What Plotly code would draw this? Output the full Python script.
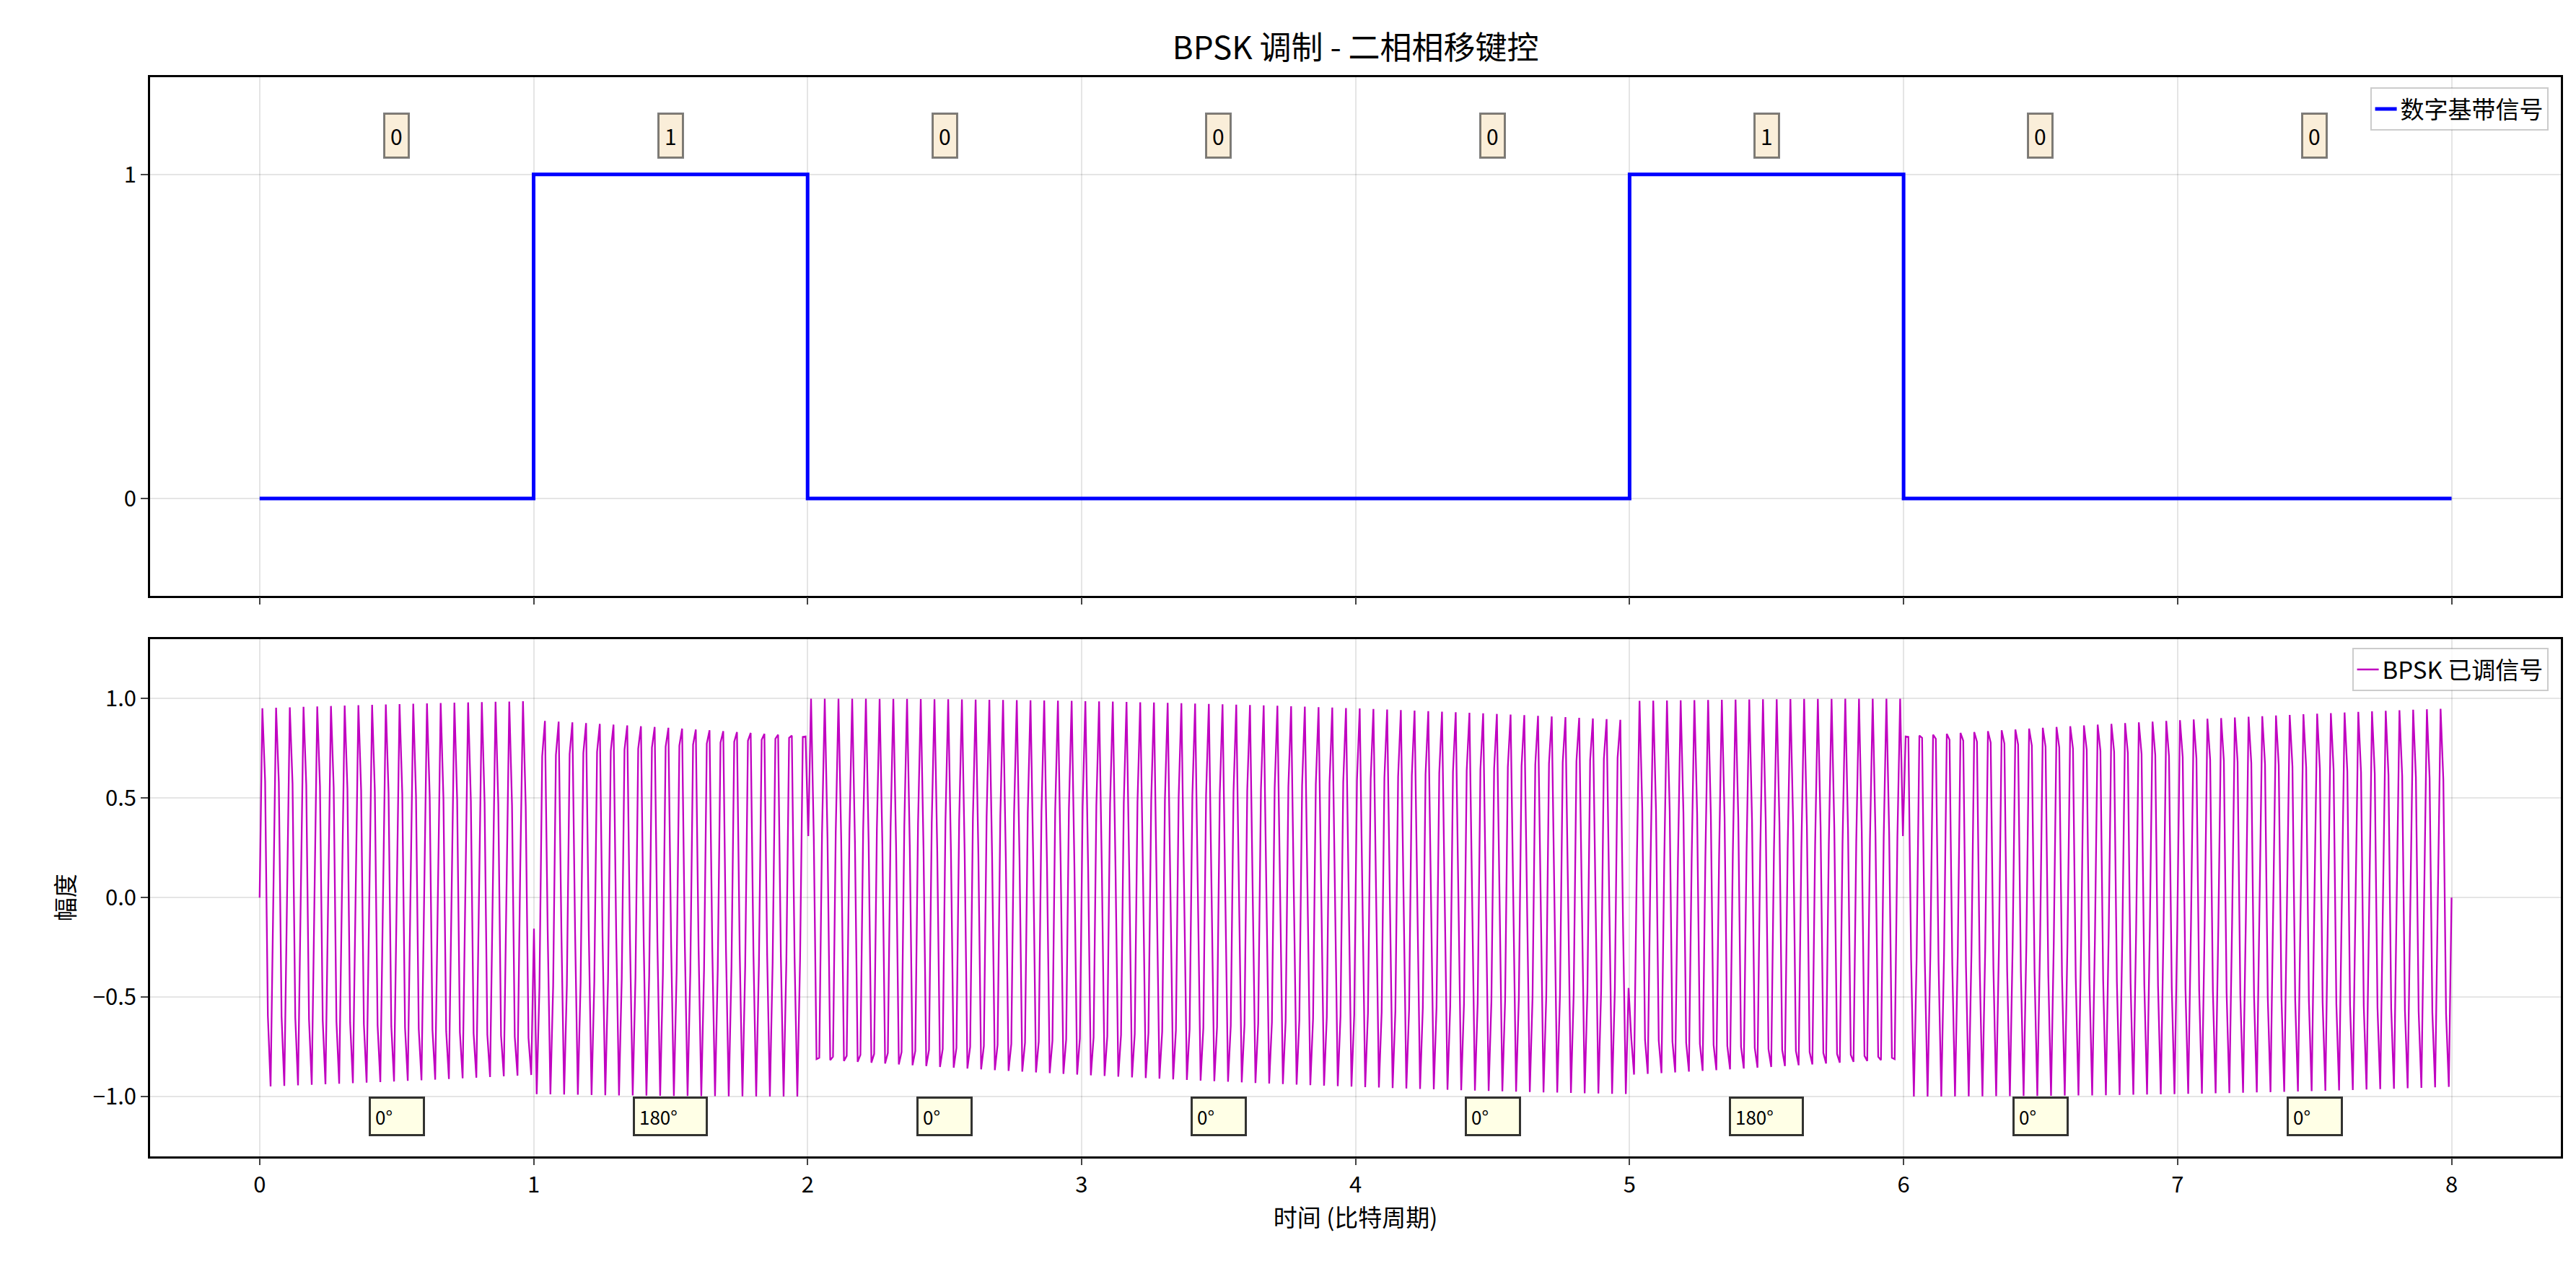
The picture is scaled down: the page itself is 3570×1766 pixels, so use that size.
import numpy as np
import plotly.graph_objects as go

bits = [0, 1, 0, 0, 0, 1, 0, 0]
phase_labels = ["0°", "180°", "0°", "0°", "0°", "180°", "0°", "0°"]
carrier_cycles_per_bit = 20
n_samples = 800

n = len(bits)
t = np.linspace(0, n, n_samples)
idx = np.minimum(t.astype(int), n - 1)
bit_arr = np.array(bits)[idx]
mod = np.sin(2 * np.pi * carrier_cycles_per_bit * t + np.pi * bit_arr)

sx, sy = [], []
for i, b in enumerate(bits):
    sx += [i, i + 1]
    sy += [b, b]

F = "Noto Sans CJK SC"
fig = go.Figure()
fig.add_trace(go.Scatter(x=sx, y=sy, mode="lines", line=dict(color="#0000ff", width=5),
                         name="数字基带信号", xaxis="x", yaxis="y", legend="legend", showlegend=True))
fig.add_trace(go.Scatter(x=t, y=mod, mode="lines", line=dict(color="#c000c0", width=2.3),
                         name="BPSK 已调信号", xaxis="x2", yaxis="y2", legend="legend2", showlegend=True))

for i, b in enumerate(bits):
    fig.add_annotation(x=i + 0.5, y=1.12, xref="x", yref="y", text=str(b), showarrow=False,
                       font=dict(size=30, color="black", family=F), bgcolor="rgba(245,222,179,0.5)",
                       bordercolor="rgba(0,0,0,0.5)", borderwidth=3, borderpad=7)
    fig.add_annotation(x=i + 0.5, y=-1.1, xref="x2", yref="y2", text=phase_labels[i], showarrow=False,
                       font=dict(size=26, color="black", family=F), bgcolor="rgba(255,255,224,0.8)",
                       bordercolor="rgba(0,0,0,0.8)", borderwidth=3, borderpad=6, width=60 if len(phase_labels[i]) < 3 else 86,
                       align="left")

ax = dict(showline=True, mirror=True, linecolor="black", linewidth=2.5, gridcolor="rgba(0,0,0,0.1)",
          gridwidth=2, ticks="outside", ticklen=10, tickwidth=2, zeroline=False,
          tickfont=dict(size=31, family=F, color="black"))
lg = dict(xanchor="right", yanchor="top", bgcolor="rgba(255,255,255,0.8)",
          bordercolor="rgba(0,0,0,0.2)", borderwidth=2, font=dict(size=33, family=F))
fig.update_layout(
    width=3570, height=1766, paper_bgcolor="white", plot_bgcolor="white", showlegend=True,
    margin=dict(l=0, r=0, t=0, b=0), font=dict(family=F, color="black"),
    title=dict(text="BPSK 调制 - 二相相移键控", x=0.524, xanchor="center", y=0.967, yanchor="middle",
               font=dict(size=44, family=F)),
    xaxis=dict(ax, domain=[0.056, 0.992], range=[-0.4, 8.4], tickvals=list(range(9)), showticklabels=False, anchor="y"),
    yaxis=dict(ax, domain=[0.537, 0.944], range=[-0.3, 1.3], tickvals=[0, 1], anchor="x"),
    xaxis2=dict(ax, domain=[0.056, 0.992], range=[-0.4, 8.4], tickvals=list(range(9)), anchor="y2",
                title=dict(text="时间 (比特周期)", font=dict(size=33, family=F), standoff=12)),
    yaxis2=dict(ax, domain=[0.097, 0.503], range=[-1.3, 1.3], tickvals=[-1, -0.5, 0, 0.5, 1],
                tickformat=".1f", anchor="x2", title=dict(text="幅度", font=dict(size=33, family=F), standoff=16)),
    legend=dict(lg, x=0.987, y=0.936),
    legend2=dict(lg, x=0.987, y=0.496),
)
fig.write_html("out.html")
